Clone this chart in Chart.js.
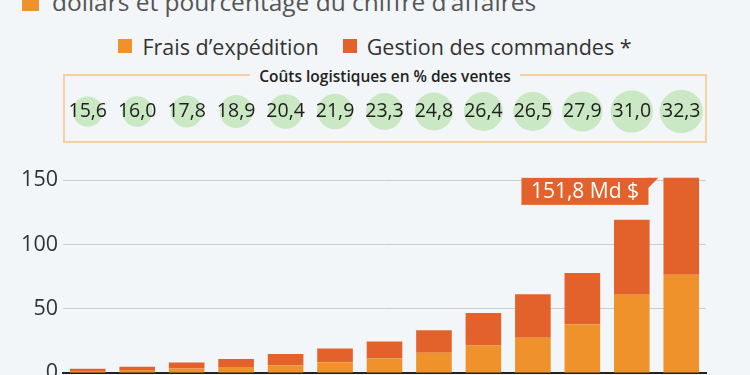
<!DOCTYPE html>
<html lang="fr">
<head>
<meta charset="utf-8">
<script src="https://cdn.jsdelivr.net/npm/chart.js@4/dist/chart.umd.min.js"></script>
<style>
  html, body { margin: 0; padding: 0; width: 750px; height: 375px; overflow: hidden; background: #f3f6f9; font-family: "Open Sans", sans-serif; }
  #title { position: absolute; left: 52px; top: -10px; font-size: 24.5px; line-height: 24px; color: #555; white-space: nowrap; }
  #title-sq { position: absolute; left: 22px; top: -5px; width: 17px; height: 16px; background: #f0922b; }
  #legend { position: absolute; left: 0; top: 31px; width: 750px; height: 30px; display: flex; justify-content: center; align-items: center; font-size: 21.5px; color: #333; }
  #legend .item { display: flex; align-items: center; margin: 0 12px; }
  #legend .sq { width: 14px; height: 14px; margin-right: 10px; }
  #box { position: absolute; left: 63px; top: 74px; width: 644px; height: 69px; box-sizing: border-box; border: 2px solid #f8cfa3; }
  #box-title { position: absolute; left: 0; top: -11px; width: 100%; text-align: center; }
  #box-title span { background: #f3f6f9; padding: 0 9px; font-size: 15.5px; font-weight: 600; color: #222; line-height: 20px; }
  #bubbles { position: absolute; left: 0; top: 76px; }
  #bars { position: absolute; left: 0; top: 143px; }
</style>
</head>
<body>
<div id="title-sq"></div>
<div id="title">dollars et pourcentage du chiffre d’affaires</div>
<div id="legend"></div>
<div id="box"><div id="box-title"><span>Coûts logistiques en % des ventes</span></div></div>
<canvas id="bubbles" width="750" height="71"></canvas>
<canvas id="bars" width="750" height="257"></canvas>
<script>
const years = ["2009", "2010", "2011", "2012", "2013", "2014", "2015", "2016", "2017", "2018", "2019", "2020", "2021"];
const shipping = [1.5, 2.3, 3.5, 4.6, 6.1, 8.4, 11.2, 15.8, 21.4, 27.5, 37.9, 60.9, 76.5];
const fulfillment = [1.8, 2.5, 4.6, 6.3, 8.7, 10.7, 13.3, 17.5, 25.2, 33.7, 39.8, 58.4, 75.3];
const logisticsPct = [15.6, 16.0, 17.8, 18.9, 20.4, 21.9, 23.3, 24.8, 26.4, 26.5, 27.9, 31.0, 32.3];
const seriesNames = ["Frais d’expédition", "Gestion des commandes *"];
const yTicks = [0, 50, 100, 150];

const colShipping = "#f0922b";
const colFulfillment = "#e3622b";

Chart.defaults.font.family = '"Open Sans", sans-serif';
Chart.defaults.color = "#333";

const frNum = v => v.toFixed(1).replace(".", ",");

// legend
const legend = document.getElementById("legend");
[colShipping, colFulfillment].forEach((c, i) => {
  const item = document.createElement("div");
  item.className = "item";
  item.innerHTML = `<div class="sq" style="background:${c}"></div><span>${seriesNames[i]}</span>`;
  legend.appendChild(item);
});

// percentage bubbles
const bubbleLabels = {
  id: "bubbleLabels",
  afterDatasetsDraw(chart) {
    const ctx = chart.ctx;
    const meta = chart.getDatasetMeta(0);
    ctx.save();
    ctx.font = '19.5px "Open Sans", sans-serif';
    ctx.fillStyle = "#1e1e1e";
    ctx.textAlign = "center";
    ctx.textBaseline = "middle";
    meta.data.forEach((pt, i) => ctx.fillText(frNum(logisticsPct[i]), pt.x, pt.y));
    ctx.restore();
  }
};

new Chart(document.getElementById("bubbles"), {
  type: "bubble",
  data: {
    datasets: [{
      data: years.map((y, i) => ({ x: y, y: 0, r: 3.81 * Math.sqrt(logisticsPct[i]) })),
      backgroundColor: "#c9e8c3",
      borderWidth: 0,
      clip: false
    }]
  },
  options: {
    responsive: false,
    animation: false,
    layout: { padding: { left: 63, right: 44, top: 0, bottom: 0 } },
    plugins: { legend: { display: false }, tooltip: { enabled: false } },
    scales: {
      x: { type: "category", labels: years, offset: true, display: false },
      y: { min: -1, max: 1, display: false }
    }
  },
  plugins: [bubbleLabels]
});

// total label on last bar
const totalLabel = {
  id: "totalLabel",
  afterDatasetsDraw(chart) {
    const ctx = chart.ctx;
    const meta = chart.getDatasetMeta(1);
    const bar = meta.data[meta.data.length - 1];
    const last = shipping.length - 1;
    const right = bar.x - bar.width / 2 - 15;
    const left = right - 127;
    const top = bar.y;
    const h = 27;
    ctx.save();
    ctx.fillStyle = colFulfillment;
    ctx.fillRect(left, top, right - left, h);
    ctx.beginPath();
    ctx.moveTo(right - 1, top);
    ctx.lineTo(right + 10, top);
    ctx.lineTo(right - 1, top + 11);
    ctx.closePath();
    ctx.fill();
    ctx.font = '21px "Open Sans", sans-serif';
    ctx.fillStyle = "#fff";
    ctx.textAlign = "center";
    ctx.textBaseline = "middle";
    ctx.fillText(frNum(shipping[last] + fulfillment[last]) + " Md $", (left + right) / 2, top + h / 2 + 1);
    ctx.restore();
  }
};

new Chart(document.getElementById("bars"), {
  type: "bar",
  data: {
    labels: years,
    datasets: [
      { label: seriesNames[0], data: shipping, backgroundColor: colShipping, barPercentage: 0.72, categoryPercentage: 1 },
      { label: seriesNames[1], data: fulfillment, backgroundColor: colFulfillment, barPercentage: 0.72, categoryPercentage: 1 }
    ]
  },
  options: {
    responsive: false,
    animation: false,
    layout: { padding: { left: 0, right: 44, top: 14, bottom: 0 } },
    plugins: { legend: { display: false }, tooltip: { enabled: false } },
    scales: {
      x: {
        stacked: true,
        grid: { display: false, drawTicks: false },
        border: { color: "#222", width: 2 },
        ticks: { font: { size: 14 } },
        afterFit: s => { s.height = 27; }
      },
      y: {
        stacked: true,
        min: 0,
        max: 165,
        afterBuildTicks: s => { s.ticks = yTicks.map(v => ({ value: v })); },
        ticks: { padding: 5, font: { size: 21.5 }, color: "#333" },
        grid: { color: "#cccccc", drawTicks: false },
        border: { display: false },
        afterFit: s => { s.width = 63; }
      }
    }
  },
  plugins: [totalLabel]
});
</script>
</body>
</html>
